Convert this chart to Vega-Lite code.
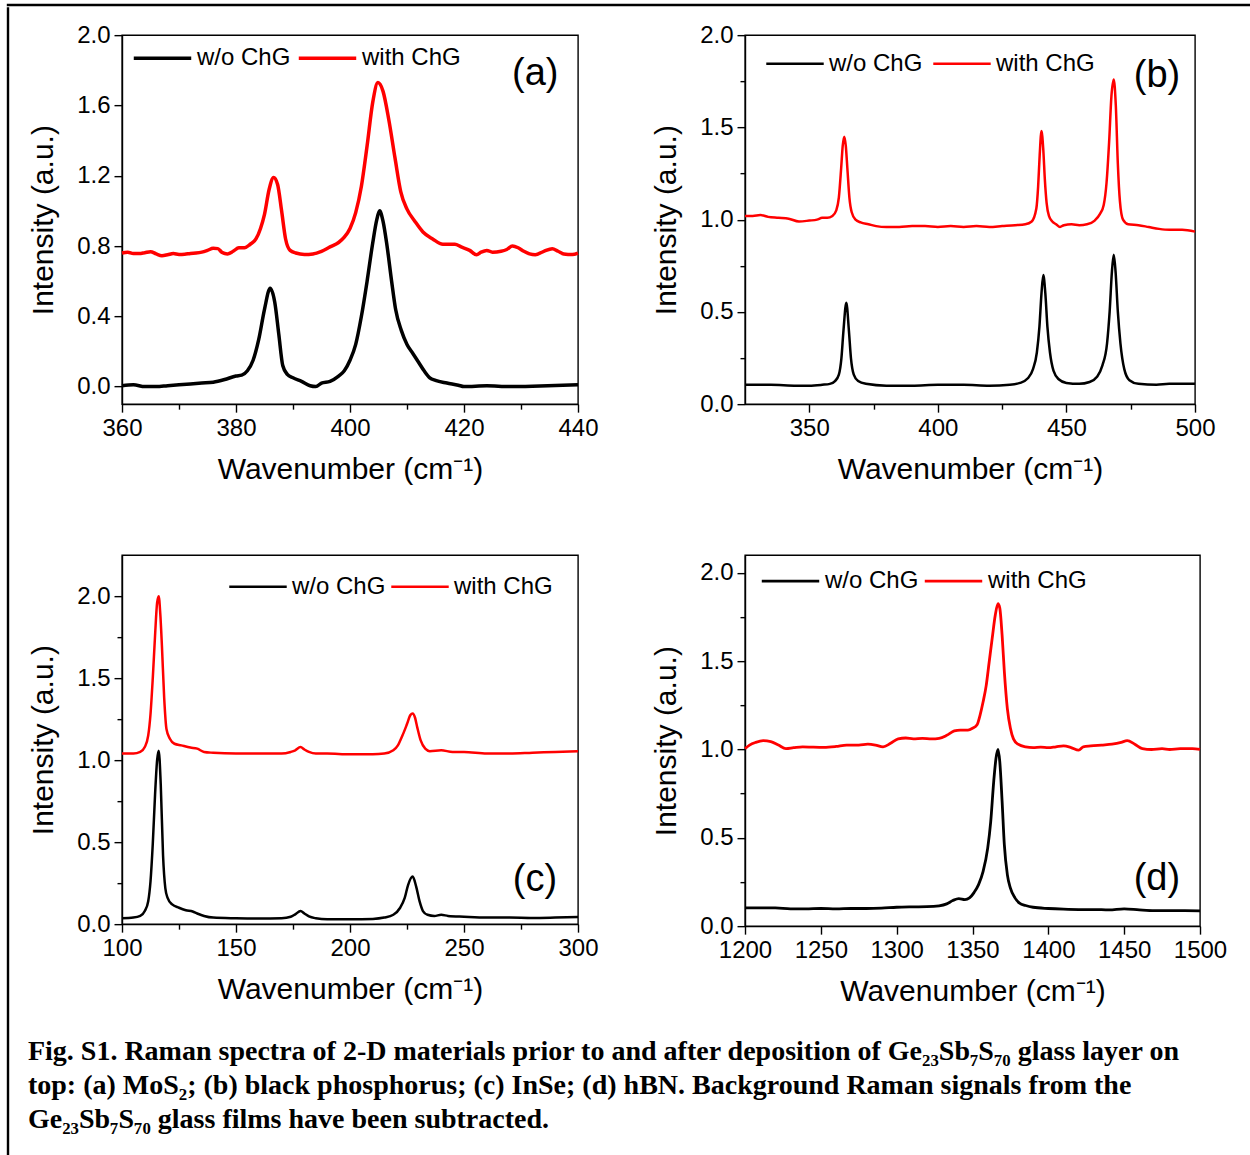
{
  "$schema": "https://vega.github.io/schema/vega-lite/v6.json",
  "background": "white",
  "padding": {"left": 6, "top": 3, "right": 0, "bottom": 0},
  "spacing": 0,
  "config": {
    "font": "Liberation Sans",
    "view": {"stroke": "black", "strokeWidth": 1.4},
    "axis": {"domainColor": "black", "domainWidth": 1.4, "tickColor": "black", "tickWidth": 1.4, "labelColor": "black", "titleColor": "black", "labelFont": "Liberation Sans", "titleFont": "Liberation Sans", "labelFontSize": 24, "titleFontSize": 30, "titleFontWeight": "normal", "grid": false, "labelPadding": 4, "labelFlush": false, "labelOverlap": false, "format": "d"},
    "axisX": {"titlePadding": 14},
    "axisY": {"titlePadding": 18},
    "legend": {"direction": "horizontal", "title": null, "symbolType": "stroke", "symbolSize": 3300, "labelFontSize": 24, "labelFont": "Liberation Sans", "labelColor": "black", "labelOffset": 4, "columnPadding": 0, "padding": 0, "gridAlign": "none", "orient": "none"}
  },
  "datasets": {
    "a": [
      {"s":"w/o ChG","x":360,"y":0.005},{"s":"w/o ChG","x":362,"y":0.01},{"s":"w/o ChG","x":364,"y":0.0},{"s":"w/o ChG","x":366,"y":0.0},{"s":"w/o ChG","x":368,"y":0.005},{"s":"w/o ChG","x":370,"y":0.01},{"s":"w/o ChG","x":372,"y":0.015},{"s":"w/o ChG","x":374,"y":0.02},{"s":"w/o ChG","x":376,"y":0.025},{"s":"w/o ChG","x":378,"y":0.04},{"s":"w/o ChG","x":380,"y":0.06},{"s":"w/o ChG","x":381,"y":0.065},{"s":"w/o ChG","x":382,"y":0.09},{"s":"w/o ChG","x":383,"y":0.15},{"s":"w/o ChG","x":384,"y":0.27},{"s":"w/o ChG","x":385,"y":0.44},{"s":"w/o ChG","x":386,"y":0.56},{"s":"w/o ChG","x":386.8,"y":0.48},{"s":"w/o ChG","x":387.5,"y":0.3},{"s":"w/o ChG","x":388.2,"y":0.12},{"s":"w/o ChG","x":389,"y":0.07},{"s":"w/o ChG","x":390,"y":0.05},{"s":"w/o ChG","x":391.5,"y":0.03},{"s":"w/o ChG","x":393,"y":0.005},{"s":"w/o ChG","x":394,"y":0.0},{"s":"w/o ChG","x":395,"y":0.02},{"s":"w/o ChG","x":396.5,"y":0.03},{"s":"w/o ChG","x":398,"y":0.06},{"s":"w/o ChG","x":399,"y":0.09},{"s":"w/o ChG","x":400,"y":0.15},{"s":"w/o ChG","x":401,"y":0.24},{"s":"w/o ChG","x":402,"y":0.4},{"s":"w/o ChG","x":403,"y":0.6},{"s":"w/o ChG","x":404,"y":0.82},{"s":"w/o ChG","x":404.7,"y":0.95},{"s":"w/o ChG","x":405.2,"y":1.0},{"s":"w/o ChG","x":405.8,"y":0.94},{"s":"w/o ChG","x":406.5,"y":0.8},{"s":"w/o ChG","x":407.3,"y":0.6},{"s":"w/o ChG","x":408,"y":0.44},{"s":"w/o ChG","x":409,"y":0.32},{"s":"w/o ChG","x":410,"y":0.24},{"s":"w/o ChG","x":411,"y":0.19},{"s":"w/o ChG","x":412,"y":0.14},{"s":"w/o ChG","x":413,"y":0.09},{"s":"w/o ChG","x":414,"y":0.05},{"s":"w/o ChG","x":415,"y":0.035},{"s":"w/o ChG","x":417,"y":0.02},{"s":"w/o ChG","x":419,"y":0.008},{"s":"w/o ChG","x":420,"y":0.0},{"s":"w/o ChG","x":424,"y":0.005},{"s":"w/o ChG","x":428,"y":0.0},{"s":"w/o ChG","x":432,"y":0.002},{"s":"w/o ChG","x":436,"y":0.006},{"s":"w/o ChG","x":440,"y":0.01},
      {"s":"with ChG","x":360,"y":0.76},{"s":"with ChG","x":361,"y":0.765},{"s":"with ChG","x":362,"y":0.757},{"s":"with ChG","x":363,"y":0.757},{"s":"with ChG","x":364,"y":0.762},{"s":"with ChG","x":365,"y":0.768},{"s":"with ChG","x":366,"y":0.755},{"s":"with ChG","x":367,"y":0.745},{"s":"with ChG","x":368,"y":0.75},{"s":"with ChG","x":369,"y":0.757},{"s":"with ChG","x":370,"y":0.752},{"s":"with ChG","x":371,"y":0.753},{"s":"with ChG","x":372,"y":0.758},{"s":"with ChG","x":373,"y":0.76},{"s":"with ChG","x":374,"y":0.765},{"s":"with ChG","x":375,"y":0.775},{"s":"with ChG","x":376,"y":0.787},{"s":"with ChG","x":376.8,"y":0.785},{"s":"with ChG","x":377.5,"y":0.765},{"s":"with ChG","x":378.5,"y":0.755},{"s":"with ChG","x":379.5,"y":0.77},{"s":"with ChG","x":380.5,"y":0.79},{"s":"with ChG","x":381.5,"y":0.79},{"s":"with ChG","x":382.5,"y":0.81},{"s":"with ChG","x":383.5,"y":0.84},{"s":"with ChG","x":384.3,"y":0.9},{"s":"with ChG","x":385,"y":0.98},{"s":"with ChG","x":385.8,"y":1.12},{"s":"with ChG","x":386.6,"y":1.19},{"s":"with ChG","x":387.3,"y":1.15},{"s":"with ChG","x":388,"y":1.0},{"s":"with ChG","x":388.7,"y":0.84},{"s":"with ChG","x":389.5,"y":0.775},{"s":"with ChG","x":390.5,"y":0.76},{"s":"with ChG","x":392,"y":0.752},{"s":"with ChG","x":393.5,"y":0.755},{"s":"with ChG","x":395,"y":0.77},{"s":"with ChG","x":396.5,"y":0.795},{"s":"with ChG","x":398,"y":0.82},{"s":"with ChG","x":399,"y":0.85},{"s":"with ChG","x":400,"y":0.9},{"s":"with ChG","x":401,"y":0.99},{"s":"with ChG","x":402,"y":1.14},{"s":"with ChG","x":403,"y":1.37},{"s":"with ChG","x":404,"y":1.62},{"s":"with ChG","x":404.9,"y":1.73},{"s":"with ChG","x":405.8,"y":1.68},{"s":"with ChG","x":406.8,"y":1.52},{"s":"with ChG","x":407.9,"y":1.3},{"s":"with ChG","x":408.9,"y":1.11},{"s":"with ChG","x":410,"y":1.01},{"s":"with ChG","x":411.4,"y":0.94},{"s":"with ChG","x":412.8,"y":0.88},{"s":"with ChG","x":414.5,"y":0.84},{"s":"with ChG","x":416.3,"y":0.81},{"s":"with ChG","x":418.4,"y":0.81},{"s":"with ChG","x":419.5,"y":0.795},{"s":"with ChG","x":421,"y":0.775},{"s":"with ChG","x":422.2,"y":0.75},{"s":"with ChG","x":423,"y":0.765},{"s":"with ChG","x":424,"y":0.775},{"s":"with ChG","x":425,"y":0.765},{"s":"with ChG","x":426.5,"y":0.77},{"s":"with ChG","x":427.5,"y":0.78},{"s":"with ChG","x":428.5,"y":0.8},{"s":"with ChG","x":429.5,"y":0.79},{"s":"with ChG","x":430.5,"y":0.77},{"s":"with ChG","x":431.5,"y":0.755},{"s":"with ChG","x":432.5,"y":0.75},{"s":"with ChG","x":434,"y":0.77},{"s":"with ChG","x":435.5,"y":0.785},{"s":"with ChG","x":436.5,"y":0.77},{"s":"with ChG","x":437.5,"y":0.755},{"s":"with ChG","x":439,"y":0.752},{"s":"with ChG","x":440,"y":0.76}
    ],
    "b": [
      {"s":"w/o ChG","x":325,"y":0.105},{"s":"w/o ChG","x":335,"y":0.105},{"s":"w/o ChG","x":345,"y":0.1},{"s":"w/o ChG","x":350,"y":0.1},{"s":"w/o ChG","x":355,"y":0.105},{"s":"w/o ChG","x":358,"y":0.11},{"s":"w/o ChG","x":360,"y":0.125},{"s":"w/o ChG","x":361.5,"y":0.16},{"s":"w/o ChG","x":362.5,"y":0.25},{"s":"w/o ChG","x":363.3,"y":0.4},{"s":"w/o ChG","x":364.4,"y":0.55},{"s":"w/o ChG","x":365.4,"y":0.4},{"s":"w/o ChG","x":366.2,"y":0.25},{"s":"w/o ChG","x":367.3,"y":0.16},{"s":"w/o ChG","x":369,"y":0.125},{"s":"w/o ChG","x":372,"y":0.11},{"s":"w/o ChG","x":380,"y":0.1},{"s":"w/o ChG","x":390,"y":0.1},{"s":"w/o ChG","x":400,"y":0.105},{"s":"w/o ChG","x":410,"y":0.105},{"s":"w/o ChG","x":420,"y":0.1},{"s":"w/o ChG","x":428,"y":0.105},{"s":"w/o ChG","x":432,"y":0.115},{"s":"w/o ChG","x":435,"y":0.14},{"s":"w/o ChG","x":437,"y":0.19},{"s":"w/o ChG","x":438.5,"y":0.28},{"s":"w/o ChG","x":439.5,"y":0.42},{"s":"w/o ChG","x":440.3,"y":0.6},{"s":"w/o ChG","x":441,"y":0.7},{"s":"w/o ChG","x":441.8,"y":0.6},{"s":"w/o ChG","x":442.6,"y":0.42},{"s":"w/o ChG","x":443.6,"y":0.28},{"s":"w/o ChG","x":445,"y":0.18},{"s":"w/o ChG","x":447,"y":0.135},{"s":"w/o ChG","x":450,"y":0.115},{"s":"w/o ChG","x":455,"y":0.11},{"s":"w/o ChG","x":459,"y":0.12},{"s":"w/o ChG","x":462,"y":0.15},{"s":"w/o ChG","x":464,"y":0.21},{"s":"w/o ChG","x":465.8,"y":0.33},{"s":"w/o ChG","x":466.8,"y":0.5},{"s":"w/o ChG","x":467.7,"y":0.72},{"s":"w/o ChG","x":468.4,"y":0.81},{"s":"w/o ChG","x":469.1,"y":0.72},{"s":"w/o ChG","x":470,"y":0.5},{"s":"w/o ChG","x":471,"y":0.33},{"s":"w/o ChG","x":472.5,"y":0.19},{"s":"w/o ChG","x":474.5,"y":0.13},{"s":"w/o ChG","x":478,"y":0.11},{"s":"w/o ChG","x":485,"y":0.105},{"s":"w/o ChG","x":490,"y":0.11},{"s":"w/o ChG","x":500,"y":0.11},
      {"s":"with ChG","x":325,"y":1.02},{"s":"with ChG","x":328,"y":1.02},{"s":"with ChG","x":331,"y":1.025},{"s":"with ChG","x":334,"y":1.015},{"s":"with ChG","x":338,"y":1.01},{"s":"with ChG","x":342,"y":1.005},{"s":"with ChG","x":346,"y":0.99},{"s":"with ChG","x":350,"y":0.995},{"s":"with ChG","x":353,"y":1.0},{"s":"with ChG","x":355,"y":1.01},{"s":"with ChG","x":357,"y":1.01},{"s":"with ChG","x":359,"y":1.02},{"s":"with ChG","x":360.5,"y":1.05},{"s":"with ChG","x":361.5,"y":1.12},{"s":"with ChG","x":362.4,"y":1.28},{"s":"with ChG","x":363,"y":1.4},{"s":"with ChG","x":363.6,"y":1.45},{"s":"with ChG","x":364.2,"y":1.4},{"s":"with ChG","x":364.8,"y":1.28},{"s":"with ChG","x":365.6,"y":1.12},{"s":"with ChG","x":366.5,"y":1.04},{"s":"with ChG","x":368,"y":1.0},{"s":"with ChG","x":370,"y":0.985},{"s":"with ChG","x":373,"y":0.975},{"s":"with ChG","x":376,"y":0.965},{"s":"with ChG","x":380,"y":0.96},{"s":"with ChG","x":385,"y":0.96},{"s":"with ChG","x":390,"y":0.965},{"s":"with ChG","x":395,"y":0.965},{"s":"with ChG","x":400,"y":0.96},{"s":"with ChG","x":405,"y":0.965},{"s":"with ChG","x":410,"y":0.96},{"s":"with ChG","x":415,"y":0.965},{"s":"with ChG","x":420,"y":0.96},{"s":"with ChG","x":425,"y":0.965},{"s":"with ChG","x":430,"y":0.97},{"s":"with ChG","x":434,"y":0.975},{"s":"with ChG","x":436.5,"y":0.99},{"s":"with ChG","x":438.3,"y":1.06},{"s":"with ChG","x":439,"y":1.18},{"s":"with ChG","x":439.6,"y":1.35},{"s":"with ChG","x":440.3,"y":1.48},{"s":"with ChG","x":441,"y":1.38},{"s":"with ChG","x":441.6,"y":1.22},{"s":"with ChG","x":442.3,"y":1.09},{"s":"with ChG","x":443.2,"y":1.02},{"s":"with ChG","x":444.5,"y":0.99},{"s":"with ChG","x":446,"y":0.975},{"s":"with ChG","x":447.5,"y":0.96},{"s":"with ChG","x":449,"y":0.97},{"s":"with ChG","x":452,"y":0.975},{"s":"with ChG","x":455,"y":0.97},{"s":"with ChG","x":458,"y":0.975},{"s":"with ChG","x":461,"y":0.995},{"s":"with ChG","x":463,"y":1.03},{"s":"with ChG","x":464.5,"y":1.08},{"s":"with ChG","x":465.6,"y":1.2},{"s":"with ChG","x":466.6,"y":1.42},{"s":"with ChG","x":467.5,"y":1.67},{"s":"with ChG","x":468.4,"y":1.76},{"s":"with ChG","x":469.2,"y":1.62},{"s":"with ChG","x":470,"y":1.3},{"s":"with ChG","x":470.8,"y":1.1},{"s":"with ChG","x":472,"y":1.0},{"s":"with ChG","x":474,"y":0.975},{"s":"with ChG","x":478,"y":0.97},{"s":"with ChG","x":482,"y":0.96},{"s":"with ChG","x":486,"y":0.95},{"s":"with ChG","x":490,"y":0.945},{"s":"with ChG","x":495,"y":0.945},{"s":"with ChG","x":500,"y":0.935}
    ],
    "c": [
      {"s":"w/o ChG","x":100,"y":0.036},{"s":"w/o ChG","x":105,"y":0.04},{"s":"w/o ChG","x":108,"y":0.05},{"s":"w/o ChG","x":110,"y":0.08},{"s":"w/o ChG","x":111.5,"y":0.14},{"s":"w/o ChG","x":112.5,"y":0.26},{"s":"w/o ChG","x":113.5,"y":0.49},{"s":"w/o ChG","x":114.5,"y":0.79},{"s":"w/o ChG","x":115.4,"y":1.0},{"s":"w/o ChG","x":116.1,"y":1.057},{"s":"w/o ChG","x":117,"y":0.85},{"s":"w/o ChG","x":118,"y":0.42},{"s":"w/o ChG","x":119,"y":0.22},{"s":"w/o ChG","x":120,"y":0.16},{"s":"w/o ChG","x":122,"y":0.12},{"s":"w/o ChG","x":125,"y":0.1},{"s":"w/o ChG","x":128,"y":0.085},{"s":"w/o ChG","x":131,"y":0.077},{"s":"w/o ChG","x":133,"y":0.065},{"s":"w/o ChG","x":136,"y":0.05},{"s":"w/o ChG","x":140,"y":0.04},{"s":"w/o ChG","x":150,"y":0.036},{"s":"w/o ChG","x":160,"y":0.034},{"s":"w/o ChG","x":170,"y":0.036},{"s":"w/o ChG","x":174,"y":0.045},{"s":"w/o ChG","x":176,"y":0.06},{"s":"w/o ChG","x":178.3,"y":0.08},{"s":"w/o ChG","x":180,"y":0.065},{"s":"w/o ChG","x":182,"y":0.047},{"s":"w/o ChG","x":185,"y":0.036},{"s":"w/o ChG","x":190,"y":0.03},{"s":"w/o ChG","x":200,"y":0.03},{"s":"w/o ChG","x":210,"y":0.032},{"s":"w/o ChG","x":215,"y":0.04},{"s":"w/o ChG","x":219,"y":0.057},{"s":"w/o ChG","x":222,"y":0.1},{"s":"w/o ChG","x":224,"y":0.16},{"s":"w/o ChG","x":225.5,"y":0.24},{"s":"w/o ChG","x":227.5,"y":0.29},{"s":"w/o ChG","x":229,"y":0.23},{"s":"w/o ChG","x":230.5,"y":0.14},{"s":"w/o ChG","x":232,"y":0.08},{"s":"w/o ChG","x":234,"y":0.057},{"s":"w/o ChG","x":237,"y":0.05},{"s":"w/o ChG","x":240,"y":0.057},{"s":"w/o ChG","x":243,"y":0.05},{"s":"w/o ChG","x":250,"y":0.045},{"s":"w/o ChG","x":260,"y":0.04},{"s":"w/o ChG","x":270,"y":0.04},{"s":"w/o ChG","x":280,"y":0.038},{"s":"w/o ChG","x":290,"y":0.04},{"s":"w/o ChG","x":300,"y":0.043},
      {"s":"with ChG","x":100,"y":1.04},{"s":"with ChG","x":105,"y":1.04},{"s":"with ChG","x":108,"y":1.05},{"s":"with ChG","x":110,"y":1.08},{"s":"with ChG","x":111.5,"y":1.15},{"s":"with ChG","x":112.5,"y":1.28},{"s":"with ChG","x":113.5,"y":1.5},{"s":"with ChG","x":114.5,"y":1.76},{"s":"with ChG","x":115.4,"y":1.96},{"s":"with ChG","x":116.1,"y":2.0},{"s":"with ChG","x":116.8,"y":1.89},{"s":"with ChG","x":117.5,"y":1.7},{"s":"with ChG","x":118.5,"y":1.38},{"s":"with ChG","x":119.5,"y":1.19},{"s":"with ChG","x":121,"y":1.13},{"s":"with ChG","x":123,"y":1.1},{"s":"with ChG","x":126,"y":1.09},{"s":"with ChG","x":130,"y":1.077},{"s":"with ChG","x":133,"y":1.07},{"s":"with ChG","x":136,"y":1.05},{"s":"with ChG","x":140,"y":1.045},{"s":"with ChG","x":150,"y":1.04},{"s":"with ChG","x":160,"y":1.04},{"s":"with ChG","x":170,"y":1.04},{"s":"with ChG","x":174,"y":1.05},{"s":"with ChG","x":176,"y":1.06},{"s":"with ChG","x":178.3,"y":1.08},{"s":"with ChG","x":180,"y":1.065},{"s":"with ChG","x":182,"y":1.05},{"s":"with ChG","x":185,"y":1.04},{"s":"with ChG","x":190,"y":1.04},{"s":"with ChG","x":200,"y":1.036},{"s":"with ChG","x":210,"y":1.036},{"s":"with ChG","x":215,"y":1.04},{"s":"with ChG","x":219,"y":1.06},{"s":"with ChG","x":221,"y":1.09},{"s":"with ChG","x":223,"y":1.15},{"s":"with ChG","x":225,"y":1.22},{"s":"with ChG","x":226.5,"y":1.275},{"s":"with ChG","x":227.5,"y":1.285},{"s":"with ChG","x":228.5,"y":1.26},{"s":"with ChG","x":229.5,"y":1.2},{"s":"with ChG","x":231,"y":1.12},{"s":"with ChG","x":233,"y":1.07},{"s":"with ChG","x":235,"y":1.055},{"s":"with ChG","x":240,"y":1.06},{"s":"with ChG","x":245,"y":1.05},{"s":"with ChG","x":250,"y":1.05},{"s":"with ChG","x":260,"y":1.04},{"s":"with ChG","x":270,"y":1.04},{"s":"with ChG","x":280,"y":1.045},{"s":"with ChG","x":290,"y":1.05},{"s":"with ChG","x":300,"y":1.055}
    ],
    "d": [
      {"s":"w/o ChG","x":1200,"y":0.103},{"s":"w/o ChG","x":1210,"y":0.103},{"s":"w/o ChG","x":1220,"y":0.103},{"s":"w/o ChG","x":1230,"y":0.098},{"s":"w/o ChG","x":1240,"y":0.098},{"s":"w/o ChG","x":1250,"y":0.1},{"s":"w/o ChG","x":1260,"y":0.098},{"s":"w/o ChG","x":1270,"y":0.1},{"s":"w/o ChG","x":1280,"y":0.1},{"s":"w/o ChG","x":1290,"y":0.102},{"s":"w/o ChG","x":1300,"y":0.107},{"s":"w/o ChG","x":1310,"y":0.109},{"s":"w/o ChG","x":1320,"y":0.11},{"s":"w/o ChG","x":1328,"y":0.115},{"s":"w/o ChG","x":1333,"y":0.126},{"s":"w/o ChG","x":1337,"y":0.145},{"s":"w/o ChG","x":1341,"y":0.156},{"s":"w/o ChG","x":1345,"y":0.15},{"s":"w/o ChG","x":1348,"y":0.16},{"s":"w/o ChG","x":1351,"y":0.19},{"s":"w/o ChG","x":1354,"y":0.235},{"s":"w/o ChG","x":1357,"y":0.31},{"s":"w/o ChG","x":1360,"y":0.44},{"s":"w/o ChG","x":1362,"y":0.59},{"s":"w/o ChG","x":1364,"y":0.82},{"s":"w/o ChG","x":1365.5,"y":0.95},{"s":"w/o ChG","x":1366.8,"y":1.0},{"s":"w/o ChG","x":1368,"y":0.93},{"s":"w/o ChG","x":1369.5,"y":0.71},{"s":"w/o ChG","x":1371,"y":0.46},{"s":"w/o ChG","x":1373,"y":0.29},{"s":"w/o ChG","x":1375,"y":0.215},{"s":"w/o ChG","x":1378,"y":0.16},{"s":"w/o ChG","x":1381,"y":0.13},{"s":"w/o ChG","x":1385,"y":0.117},{"s":"w/o ChG","x":1390,"y":0.107},{"s":"w/o ChG","x":1400,"y":0.1},{"s":"w/o ChG","x":1410,"y":0.096},{"s":"w/o ChG","x":1420,"y":0.094},{"s":"w/o ChG","x":1430,"y":0.094},{"s":"w/o ChG","x":1440,"y":0.092},{"s":"w/o ChG","x":1450,"y":0.098},{"s":"w/o ChG","x":1460,"y":0.092},{"s":"w/o ChG","x":1470,"y":0.088},{"s":"w/o ChG","x":1480,"y":0.088},{"s":"w/o ChG","x":1490,"y":0.088},{"s":"w/o ChG","x":1500,"y":0.087},
      {"s":"with ChG","x":1200,"y":1.005},{"s":"with ChG","x":1203,"y":1.025},{"s":"with ChG","x":1207,"y":1.04},{"s":"with ChG","x":1212,"y":1.05},{"s":"with ChG","x":1217,"y":1.045},{"s":"with ChG","x":1222,"y":1.025},{"s":"with ChG","x":1227,"y":1.005},{"s":"with ChG","x":1232,"y":1.01},{"s":"with ChG","x":1238,"y":1.015},{"s":"with ChG","x":1245,"y":1.013},{"s":"with ChG","x":1252,"y":1.012},{"s":"with ChG","x":1260,"y":1.017},{"s":"with ChG","x":1267,"y":1.025},{"s":"with ChG","x":1275,"y":1.025},{"s":"with ChG","x":1281,"y":1.03},{"s":"with ChG","x":1286,"y":1.025},{"s":"with ChG","x":1291,"y":1.015},{"s":"with ChG","x":1296,"y":1.035},{"s":"with ChG","x":1301,"y":1.06},{"s":"with ChG","x":1306,"y":1.065},{"s":"with ChG","x":1311,"y":1.06},{"s":"with ChG","x":1317,"y":1.063},{"s":"with ChG","x":1323,"y":1.06},{"s":"with ChG","x":1328,"y":1.063},{"s":"with ChG","x":1333,"y":1.08},{"s":"with ChG","x":1338,"y":1.105},{"s":"with ChG","x":1342,"y":1.11},{"s":"with ChG","x":1347,"y":1.11},{"s":"with ChG","x":1350,"y":1.12},{"s":"with ChG","x":1353,"y":1.14},{"s":"with ChG","x":1355,"y":1.195},{"s":"with ChG","x":1357,"y":1.27},{"s":"with ChG","x":1359,"y":1.36},{"s":"with ChG","x":1361,"y":1.495},{"s":"with ChG","x":1363,"y":1.63},{"s":"with ChG","x":1365,"y":1.76},{"s":"with ChG","x":1366.8,"y":1.825},{"s":"with ChG","x":1368,"y":1.8},{"s":"with ChG","x":1369.5,"y":1.65},{"s":"with ChG","x":1371,"y":1.44},{"s":"with ChG","x":1373,"y":1.23},{"s":"with ChG","x":1375,"y":1.12},{"s":"with ChG","x":1377,"y":1.06},{"s":"with ChG","x":1380,"y":1.03},{"s":"with ChG","x":1385,"y":1.015},{"s":"with ChG","x":1390,"y":1.011},{"s":"with ChG","x":1395,"y":1.013},{"s":"with ChG","x":1400,"y":1.01},{"s":"with ChG","x":1405,"y":1.015},{"s":"with ChG","x":1410,"y":1.02},{"s":"with ChG","x":1415,"y":1.011},{"s":"with ChG","x":1420,"y":0.996},{"s":"with ChG","x":1423,"y":1.015},{"s":"with ChG","x":1428,"y":1.02},{"s":"with ChG","x":1435,"y":1.025},{"s":"with ChG","x":1442,"y":1.03},{"s":"with ChG","x":1448,"y":1.04},{"s":"with ChG","x":1452,"y":1.05},{"s":"with ChG","x":1457,"y":1.03},{"s":"with ChG","x":1462,"y":1.005},{"s":"with ChG","x":1468,"y":1.0},{"s":"with ChG","x":1475,"y":1.005},{"s":"with ChG","x":1480,"y":1.0},{"s":"with ChG","x":1487,"y":1.005},{"s":"with ChG","x":1495,"y":1.005},{"s":"with ChG","x":1500,"y":1.0}
    ]
  },
  "vconcat": [
    {
      "width": 1241, "height": 0.01,
      "data": {"values": []},
      "mark": "rule",
      "encoding": {},
      "view": {"stroke": "black", "strokeWidth": 2.4}
    },
    {
      "hconcat": [
        {
          "width": 0.01, "height": 1151,
          "data": {"values": []},
          "mark": "rule",
          "encoding": {},
          "view": {"stroke": "black", "strokeWidth": 2.4}
        },
        {
          "bounds": "flush",
          "columns": 2,
          "spacing": {"row": 151, "column": 167},
          "title": {
            "text": [
              "Fig. S1. Raman spectra of 2-D materials prior to and after deposition of Ge₂₃Sb₇S₇₀ glass layer on",
              "top: (a) MoS₂; (b) black phosphorus; (c) InSe; (d) hBN. Background Raman signals from the",
              "Ge₂₃Sb₇S₇₀ glass films have been subtracted."
            ],
            "orient": "bottom", "anchor": "start", "font": "Liberation Serif", "fontSize": 28, "fontWeight": "bold", "lineHeight": 34, "offset": 31, "color": "black"
          },
          "resolve": {"scale": {"color": "independent"}, "legend": {"color": "independent"}},
          "concat": [
            {
              "width": 456, "height": 369,
              "layer": [
                {
                  "data": {"name": "a"},
                  "mark": {"type": "line", "strokeWidth": 3.5, "interpolate": "monotone"},
                  "encoding": {
                    "x": {"field": "x", "type": "quantitative", "scale": {"domain": [360, 440], "nice": false, "zero": false},
                      "axis": {"values": [360,370,380,390,400,410,420,430,440], "labelExpr": "datum.value % 20 == 0 ? datum.label : ''", "tickSize": {"condition": {"test": "datum.value % 20 == 0", "value": 8}, "value": 5}, "title": "Wavenumber (cm⁻¹)"}},
                    "y": {"field": "y", "type": "quantitative", "scale": {"domain": [-0.1, 2.0], "nice": false, "zero": false},
                      "axis": {"values": [0,0.2,0.4,0.6,0.8,1.0,1.2,1.4,1.6,1.8,2.0], "labelExpr": "round(datum.value*10) % 4 == 0 ? format(datum.value, '.1f') : ''", "tickSize": {"condition": {"test": "round(datum.value*10) % 4 == 0", "value": 8}, "value": 5}, "title": "Intensity (a.u.)"}},
                    "color": {"field": "s", "type": "nominal", "scale": {"domain": ["w/o ChG", "with ChG"], "range": ["#000000", "#ff0000"]},
                      "legend": {"legendX": 10, "legendY": -7.5, "symbolStrokeWidth": 3.5}}
                  }
                },
                {
                  "data": {"values": [{"t": "(a)", "x": 432.5, "y": 1.78}]},
                  "mark": {"type": "text", "fontSize": 38, "font": "Liberation Sans", "color": "black"},
                  "encoding": {"x": {"field": "x", "type": "quantitative"}, "y": {"field": "y", "type": "quantitative"}, "text": {"field": "t"}}
                }
              ]
            },
            {
              "width": 450, "height": 369,
              "layer": [
                {
                  "data": {"name": "b"},
                  "mark": {"type": "line", "strokeWidth": 2.5, "interpolate": "monotone"},
                  "encoding": {
                    "x": {"field": "x", "type": "quantitative", "scale": {"domain": [325, 500], "nice": false, "zero": false},
                      "axis": {"values": [350,375,400,425,450,475,500], "labelExpr": "datum.value % 50 == 0 ? datum.label : ''", "tickSize": {"condition": {"test": "datum.value % 50 == 0", "value": 8}, "value": 5}, "title": "Wavenumber (cm⁻¹)"}},
                    "y": {"field": "y", "type": "quantitative", "scale": {"domain": [0, 2.0], "nice": false, "zero": false},
                      "axis": {"values": [0,0.25,0.5,0.75,1.0,1.25,1.5,1.75,2.0], "labelExpr": "round(datum.value*4) % 2 == 0 ? format(datum.value, '.1f') : ''", "tickSize": {"condition": {"test": "round(datum.value*4) % 2 == 0", "value": 8}, "value": 5}, "title": "Intensity (a.u.)"}},
                    "color": {"field": "s", "type": "nominal", "scale": {"domain": ["w/o ChG", "with ChG"], "range": ["#000000", "#ff0000"]},
                      "legend": {"legendX": 20, "legendY": -1.5, "symbolStrokeWidth": 2.5, "columnPadding": 5}}
                  }
                },
                {
                  "data": {"values": [{"t": "(b)", "x": 485.2, "y": 1.78}]},
                  "mark": {"type": "text", "fontSize": 38, "font": "Liberation Sans", "color": "black"},
                  "encoding": {"x": {"field": "x", "type": "quantitative"}, "y": {"field": "y", "type": "quantitative"}, "text": {"field": "t"}}
                }
              ]
            },
            {
              "width": 456, "height": 369,
              "layer": [
                {
                  "data": {"name": "c"},
                  "mark": {"type": "line", "strokeWidth": 2.5, "interpolate": "monotone"},
                  "encoding": {
                    "x": {"field": "x", "type": "quantitative", "scale": {"domain": [100, 300], "nice": false, "zero": false},
                      "axis": {"values": [100,125,150,175,200,225,250,275,300], "labelExpr": "datum.value % 50 == 0 ? datum.label : ''", "tickSize": {"condition": {"test": "datum.value % 50 == 0", "value": 8}, "value": 5}, "title": "Wavenumber (cm⁻¹)"}},
                    "y": {"field": "y", "type": "quantitative", "scale": {"domain": [0, 2.25], "nice": false, "zero": false},
                      "axis": {"values": [0,0.25,0.5,0.75,1.0,1.25,1.5,1.75,2.0], "labelExpr": "round(datum.value*4) % 2 == 0 ? format(datum.value, '.1f') : ''", "tickSize": {"condition": {"test": "round(datum.value*4) % 2 == 0", "value": 8}, "value": 5}, "title": "Intensity (a.u.)"}},
                    "color": {"field": "s", "type": "nominal", "scale": {"domain": ["w/o ChG", "with ChG"], "range": ["#000000", "#ff0000"]},
                      "legend": {"legendX": 106, "legendY": 1.5, "symbolStrokeWidth": 2.5}}
                  }
                },
                {
                  "data": {"values": [{"t": "(c)", "x": 281.1, "y": 0.27}]},
                  "mark": {"type": "text", "fontSize": 38, "font": "Liberation Sans", "color": "black"},
                  "encoding": {"x": {"field": "x", "type": "quantitative"}, "y": {"field": "y", "type": "quantitative"}, "text": {"field": "t"}}
                }
              ]
            },
            {
              "width": 455, "height": 371,
              "layer": [
                {
                  "data": {"name": "d"},
                  "mark": {"type": "line", "strokeWidth": 2.8, "interpolate": "monotone"},
                  "encoding": {
                    "x": {"field": "x", "type": "quantitative", "scale": {"domain": [1200, 1500], "nice": false, "zero": false},
                      "axis": {"values": [1200,1225,1250,1275,1300,1325,1350,1375,1400,1425,1450,1475,1500], "labelExpr": "datum.value % 50 == 0 ? datum.label : ''", "tickSize": {"condition": {"test": "datum.value % 50 == 0", "value": 8}, "value": 5}, "title": "Wavenumber (cm⁻¹)"}},
                    "y": {"field": "y", "type": "quantitative", "scale": {"domain": [0, 2.1], "nice": false, "zero": false},
                      "axis": {"values": [0,0.25,0.5,0.75,1.0,1.25,1.5,1.75,2.0], "labelExpr": "round(datum.value*4) % 2 == 0 ? format(datum.value, '.1f') : ''", "tickSize": {"condition": {"test": "round(datum.value*4) % 2 == 0", "value": 8}, "value": 5}, "title": "Intensity (a.u.)"}},
                    "color": {"field": "s", "type": "nominal", "scale": {"domain": ["w/o ChG", "with ChG"], "range": ["#000000", "#ff0000"]},
                      "legend": {"legendX": 15, "legendY": -4.5, "symbolStrokeWidth": 2.8}}
                  }
                },
                {
                  "data": {"values": [{"t": "(d)", "x": 1471.6, "y": 0.265}]},
                  "mark": {"type": "text", "fontSize": 38, "font": "Liberation Sans", "color": "black"},
                  "encoding": {"x": {"field": "x", "type": "quantitative"}, "y": {"field": "y", "type": "quantitative"}, "text": {"field": "t"}}
                }
              ]
            }
          ]
        }
      ],
      "spacing": 17,
      "center": true
    }
  ]
}
